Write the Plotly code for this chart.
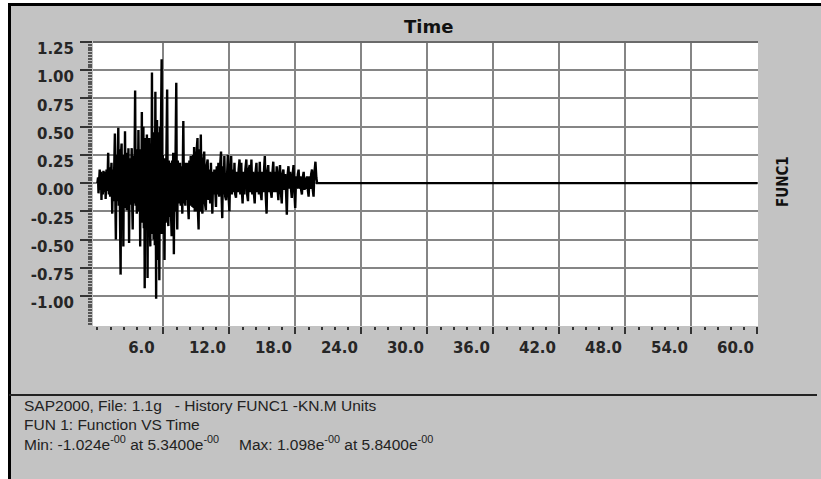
import plotly.graph_objects as go

# ---------------- data ----------------
TIME = [0.00,0.06,0.10,0.16,0.21,0.27,0.32,0.37,0.43,0.49,0.55,0.62,0.69,0.75,0.83,0.90,0.98,1.04,1.10,1.16,
        1.22,1.28,1.35,1.41,1.47,1.53,1.59,1.64,1.68,1.74,1.80,1.85,1.90,1.95,2.00,2.05,2.11,2.16,2.20,2.25,
        2.30,2.36,2.41,2.46,2.51,2.56,2.61,2.66,2.72,2.77,2.82,2.88,2.94,3.00,3.06,3.12,3.17,3.21,3.27,3.32,
        3.38,3.43,3.48,3.53,3.58,3.63,3.68,3.73,3.79,3.84,3.89,3.94,3.99,4.04,4.09,4.14,4.18,4.22,4.26,4.30,
        4.35,4.40,4.45,4.50,4.56,4.61,4.66,4.71,4.76,4.81,4.86,4.91,4.96,5.01,5.06,5.11,5.17,5.22,5.27,5.34,
        5.38,5.42,5.46,5.50,5.55,5.59,5.63,5.68,5.73,5.78,5.84,5.89,5.94,5.98,6.03,6.10,6.15,6.20,6.26,6.34,
        6.40,6.45,6.50,6.55,6.60,6.65,6.70,6.75,6.80,6.85,6.89,6.95,7.01,7.06,7.11,7.17,7.22,7.26,7.31,7.36,
        7.41,7.46,7.51,7.57,7.62,7.67,7.72,7.77,7.81,7.87,7.93,7.99,8.05,8.11,8.18,8.24,8.30,8.36,8.42,8.48,
        8.53,8.58,8.64,8.70,8.75,8.79,8.85,8.91,8.97,9.03,9.10,9.15,9.20,9.26,9.32,9.40,9.47,9.55,9.62,9.71,
        9.78,9.86,9.93,10.02,10.10,10.18,10.25,10.32,10.38,10.45,10.52,10.58,10.63,10.70,10.78,10.85,10.92,11.00,11.07,11.15,
        11.24,11.30,11.35,11.42,11.48,11.54,11.62,11.70,11.78,11.86,11.93,12.00,12.08,12.16,12.23,12.30,12.38,12.46,12.53,12.60,
        12.68,12.76,12.84,12.92,12.99,13.08,13.14,13.20,13.28,13.36,13.45,13.54,13.61,13.69,13.76,13.84,13.92,14.00,14.08,14.15,
        14.22,14.30,14.38,14.46,14.53,14.61,14.68,14.76,14.84,14.92,15.00,15.08,15.15,15.22,15.30,15.38,15.45,15.53,15.61,15.69,
        15.77,15.84,15.92,15.99,16.07,16.15,16.22,16.30,16.38,16.45,16.52,16.60,16.68,16.76,16.83,16.91,16.99,17.07,17.15,17.22,
        17.30,17.37,17.45,17.52,17.60,17.67,17.75,17.83,17.90,17.98,18.06,18.14,18.22,18.29,18.37,18.45,18.52,18.59,18.67,18.75,
        18.83,18.90,18.98,19.05,19.13,19.20,19.28,19.36,19.43,19.51,19.58,19.65,19.72,19.82,19.90,19.97,60.00]

FUNC1 = [0.00,0.05,-0.09,0.08,0.12,-0.06,0.10,-0.15,0.08,-0.10,0.11,-0.08,0.10,-0.14,0.12,-0.07,0.27,-0.10,0.14,-0.12,
         0.10,0.18,-0.27,0.12,-0.16,0.20,0.44,-0.22,-0.50,0.25,-0.16,0.22,0.49,-0.20,0.30,-0.25,-0.81,0.28,0.35,-0.20,
         0.22,-0.56,0.25,-0.22,0.46,-0.18,0.20,-0.24,0.27,-0.20,0.31,-0.53,0.22,-0.19,0.24,0.31,-0.22,-0.41,0.24,-0.18,
         0.20,0.82,-0.20,0.25,-0.27,0.30,-0.22,0.47,-0.25,0.28,-0.56,0.30,-0.30,0.63,-0.35,0.30,0.50,-0.40,0.35,-0.93,
         0.40,-0.35,0.30,0.43,-0.84,0.35,-0.40,0.40,-0.30,-0.56,0.35,-0.40,0.98,-0.45,0.40,-0.50,0.45,-0.55,0.81,-1.024,
         0.40,0.56,-0.45,-0.68,0.45,-0.50,-0.86,0.50,-0.45,0.50,1.098,-0.45,0.25,-0.40,0.18,-0.68,0.22,-0.35,0.30,0.83,
         -0.30,-0.38,0.20,-0.30,0.15,0.18,-0.30,-0.47,0.20,-0.25,0.27,-0.63,0.25,-0.25,0.30,0.89,-0.20,-0.41,0.20,-0.18,
         0.09,-0.15,0.18,-0.20,0.15,-0.18,-0.27,0.20,0.55,-0.18,0.15,-0.20,0.18,-0.15,0.18,-0.20,-0.32,0.20,-0.20,0.24,
         -0.18,0.22,-0.21,0.25,-0.22,0.32,-0.25,0.28,-0.25,0.30,0.40,-0.28,-0.41,0.30,-0.25,0.43,-0.20,-0.27,0.20,0.28,
         -0.18,-0.24,0.15,0.21,-0.15,0.12,-0.18,0.18,-0.12,-0.27,0.10,-0.10,0.12,-0.12,-0.21,0.15,-0.10,0.18,-0.12,0.15,
         0.28,-0.15,-0.31,0.15,-0.10,0.24,-0.12,-0.15,0.15,0.25,-0.12,-0.25,0.15,0.24,-0.10,0.12,-0.08,0.18,-0.10,-0.13,
         0.10,-0.08,0.12,0.21,-0.10,0.18,-0.08,-0.18,0.10,-0.10,0.12,0.21,-0.10,-0.16,0.12,0.16,-0.08,0.21,-0.10,0.10,
         -0.08,-0.18,0.10,0.18,-0.08,0.10,-0.10,0.19,-0.08,-0.15,0.10,-0.08,0.12,0.24,-0.10,-0.27,0.10,0.16,-0.08,0.10,
         -0.08,-0.13,0.10,0.19,-0.08,0.10,-0.08,0.15,-0.05,-0.15,0.08,0.16,-0.08,-0.18,0.08,0.12,-0.06,0.08,-0.08,-0.28,
         0.08,0.15,-0.05,0.10,-0.05,-0.13,0.08,0.16,-0.06,-0.22,0.06,-0.05,0.08,0.12,-0.05,0.06,-0.06,-0.10,0.05,0.10,
         -0.06,0.05,-0.05,0.06,-0.06,-0.12,0.06,-0.05,0.08,0.12,-0.06,-0.12,0.08,0.19,0.05,0.00,0.00]

Y_TICKS = [1.25, 1.00, 0.75, 0.50, 0.25, 0.00, -0.25, -0.50, -0.75, -1.00]
Y_TICK_TEXT = ["1.25", "1.00", "0.75", "0.50", "0.25", "0.00", "-0.25", "-0.50", "-0.75", "-1.00"]
X_TICKS = [6, 12, 18, 24, 30, 36, 42, 48, 54, 60]
X_TICK_TEXT = ["6.0", "12.0", "18.0", "24.0", "30.0", "36.0", "42.0", "48.0", "54.0", "60.0"]

TITLE = "Time"
SERIES = "FUNC1"
INFO_1 = "SAP2000, File: 1.1g   - History FUNC1 -KN.M Units"
INFO_2 = "FUN 1: Function VS Time"
INFO_MIN = "Min: -1.024e<sup>-00</sup> at 5.3400e<sup>-00</sup>"
INFO_MAX = "Max: 1.098e<sup>-00</sup> at 5.8400e<sup>-00</sup>"

# ---------------- layout geometry (pixels) ----------------
W, H = 821, 479
L, R, T, B = 93, 63, 42, 153
PW, PH = W - L - R, H - T - B


def px(x):
    return (x - L) / PW


def py(y):
    return (T + PH - y) / PH


GRAY = "#c3c3c3"
GRID = "#858585"
TICK = "#333333"
TICK_FONT = dict(family="DejaVu Sans", size=15, color="#262626", weight="bold")

fig = go.Figure()
fig.add_trace(go.Scatter(x=TIME, y=FUNC1, mode="lines",
                         line=dict(color="#000000", width=2.4),
                         hoverinfo="skip", showlegend=False))

fig.update_layout(
    width=W, height=H,
    margin=dict(l=L, r=R, t=T, b=B),
    paper_bgcolor=GRAY, plot_bgcolor="#ffffff",
    showlegend=False,
    xaxis=dict(range=[-0.4, 60.05], tickmode="array", tickvals=X_TICKS, ticktext=X_TICK_TEXT,
               ticks="outside", ticklen=7, tickwidth=2, tickcolor=TICK,
               showgrid=True, gridcolor=GRID, gridwidth=1.5,
               zeroline=False, showline=False,
               tickfont=TICK_FONT,
               ticklabelshift=-22, ticklabelstandoff=1,
               minor=dict(tickmode="linear", tick0=0, dtick=1.2, ticks="outside",
                          ticklen=3, tickwidth=2, tickcolor=TICK, showgrid=False)),
    yaxis=dict(range=[-1.265, 1.25], tickmode="array", tickvals=Y_TICKS, ticktext=Y_TICK_TEXT,
               ticks="outside", ticklen=12, tickwidth=1.5, tickcolor=TICK,
               showgrid=True, gridcolor=GRID, gridwidth=1.5,
               zeroline=False, showline=False,
               tickfont=TICK_FONT,
               ticklabelshift=7, ticklabelstandoff=3,
               minor=dict(tickmode="linear", tick0=0, dtick=0.025, ticks="outside",
                          ticklen=4, tickwidth=1.5, tickcolor="#555555", showgrid=False)),
)

shapes = [
    # darker top edge of plot area
    dict(type="line", xref="paper", yref="paper", x0=0, x1=1, y0=1, y1=1,
         line=dict(color="#6a6a6a", width=2)),
    # white outer margin
    dict(type="rect", xref="paper", yref="paper", x0=px(-2), x1=px(8), y0=py(H + 2), y1=py(-2),
         fillcolor="#ffffff", line=dict(width=0)),
    dict(type="rect", xref="paper", yref="paper", x0=px(-2), x1=px(W + 2), y0=py(3), y1=py(-2),
         fillcolor="#ffffff", line=dict(width=0)),
    # black frame
    dict(type="line", xref="paper", yref="paper", x0=px(9.5), x1=px(9.5), y0=py(H + 2), y1=py(3),
         line=dict(color="#000000", width=3)),
    dict(type="line", xref="paper", yref="paper", x0=px(8), x1=px(W + 2), y0=py(4.5), y1=py(4.5),
         line=dict(color="#000000", width=3)),
    # separator above info text
    dict(type="line", xref="paper", yref="paper", x0=px(9), x1=px(817), y0=py(395), y1=py(395),
         line=dict(color="#222222", width=2)),
]
fig.update_layout(shapes=shapes)

info_font = dict(family="Liberation Sans, Arial, sans-serif", size=15.5, color="#222222")
annotations = [
    dict(text="<b>" + TITLE + "</b>", x=px(428), y=py(27), xref="paper", yref="paper",
         xanchor="center", yanchor="middle", showarrow=False,
         font=dict(family="DejaVu Sans", size=18, color="#111111")),
    dict(text="<b>" + SERIES + "</b>", x=px(783), y=py(182), xref="paper", yref="paper",
         xanchor="center", yanchor="middle", showarrow=False, textangle=-90,
         font=dict(family="Liberation Sans Narrow, DejaVu Sans Condensed, sans-serif", size=15,
                   color="#111111")),
    dict(text=INFO_1, x=px(22), y=py(405), xref="paper", yref="paper",
         xanchor="left", yanchor="middle", showarrow=False, font=info_font),
    dict(text=INFO_2, x=px(22), y=py(424), xref="paper", yref="paper",
         xanchor="left", yanchor="middle", showarrow=False, font=info_font),
    dict(text=INFO_MIN, x=px(22), y=py(443), xref="paper", yref="paper",
         xanchor="left", yanchor="middle", showarrow=False, font=info_font),
    dict(text=INFO_MAX, x=px(237), y=py(443), xref="paper", yref="paper",
         xanchor="left", yanchor="middle", showarrow=False, font=info_font),
]
fig.update_layout(annotations=annotations)

fig.write_html("out.html", config={"displayModeBar": False},
               post_script="document.body.style.margin='0';")
